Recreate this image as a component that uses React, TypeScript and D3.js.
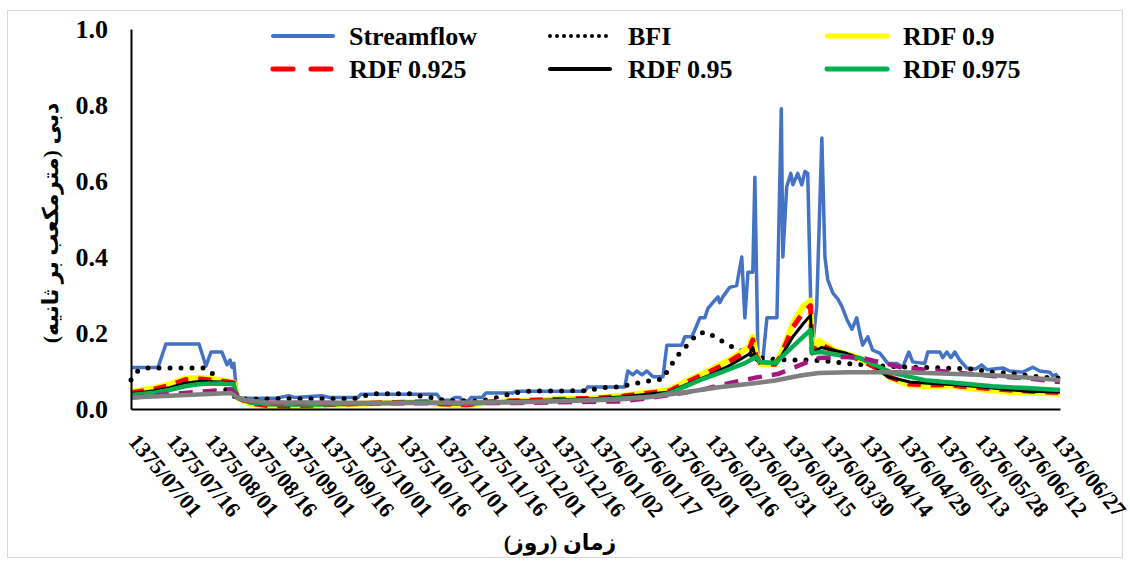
import React, { useEffect, useRef } from "react";
import * as d3 from "d3";

// days counted from 1375/07/01, labels every 15 days
const tickLabels = [
  "1375/07/01", "1375/07/16", "1375/08/01", "1375/08/16", "1375/09/01",
  "1375/09/16", "1375/10/01", "1375/10/16", "1375/11/01", "1375/11/16",
  "1375/12/01", "1375/12/16", "1376/01/02", "1376/01/17", "1376/02/01",
  "1376/02/16", "1376/02/31", "1376/03/15", "1376/03/30", "1376/04/14",
  "1376/04/29", "1376/05/13", "1376/05/28", "1376/06/12", "1376/06/27",
];
const tickDays = tickLabels.map((_, i) => i * 15);
const yTicks = [0, 0.2, 0.4, 0.6, 0.8, 1.0];

// [day, m3/s]
const streamflow: [number, number][] = [
  [0, 0.109], [10.5, 0.109], [13.6, 0.171], [26.5, 0.171], [29.2, 0.113], [31.2, 0.15], [35.4, 0.15],
  [37.4, 0.116], [38.6, 0.129], [39.3, 0.11], [40.1, 0.12], [41.3, 0.029], [56, 0.028], [61.5, 0.035],
  [63.9, 0.03], [74.4, 0.035], [77.5, 0.03], [88.4, 0.03], [89.6, 0.039], [119.2, 0.039], [120.8, 0.023],
  [124.3, 0.023], [126.2, 0.03], [128.2, 0.03], [129.3, 0.021], [131.3, 0.021], [132.5, 0.03], [136.7, 0.03],
  [138.3, 0.042], [148.8, 0.042], [150, 0.047], [176.9, 0.047], [178, 0.058], [192.4, 0.058], [193.6, 0.1],
  [195.6, 0.09], [197.1, 0.1], [199.1, 0.09], [201, 0.1], [203.4, 0.085], [207.3, 0.085], [208.8, 0.168],
  [214.6, 0.168], [215.8, 0.19], [218.5, 0.19], [219.7, 0.208], [221.7, 0.24], [223.6, 0.24], [224.8, 0.265],
  [226.7, 0.28], [228.7, 0.295], [229.4, 0.28], [230.6, 0.295], [233.3, 0.32], [236, 0.325], [238, 0.4],
  [239.2, 0.24], [240.4, 0.36], [242.3, 0.36], [243.1, 0.61], [244.3, 0.137], [246.2, 0.13], [247.8, 0.24],
  [251.7, 0.24], [253.4, 0.79], [254, 0.4], [255.5, 0.585], [257.1, 0.62], [257.9, 0.59], [259.8, 0.62],
  [261.4, 0.59], [262.6, 0.625], [263.7, 0.62], [265.3, 0.147], [267.2, 0.27], [269.2, 0.713], [270.4, 0.4],
  [271.5, 0.34], [273.5, 0.305], [275.4, 0.29], [277, 0.27], [279, 0.235], [280.9, 0.21], [282.8, 0.24],
  [284, 0.2], [285.1, 0.168], [287.1, 0.19], [289, 0.155], [291.8, 0.147], [294.9, 0.12], [298.4, 0.12],
  [300.7, 0.11], [303.1, 0.15], [304.6, 0.124], [309.3, 0.12], [310.5, 0.15], [315.2, 0.15], [316.3, 0.135],
  [317.9, 0.15], [319.5, 0.135], [321, 0.15], [322.9, 0.129], [325.7, 0.108], [329, 0.105], [331.5, 0.116],
  [333.5, 0.103], [339.7, 0.108], [342.4, 0.1], [347.5, 0.097], [351.4, 0.11], [354.1, 0.1], [358, 0.097],
  [359.2, 0.087], [361.1, 0.092],
];

const bfi: [number, number][] = [
  [0, 0.076], [2.7, 0.1], [6.6, 0.108], [28, 0.108], [31.6, 0.095], [33, 0.07], [41, 0.03], [46, 0.025],
  [56, 0.027], [87, 0.027], [91, 0.035], [95, 0.04], [109.5, 0.04], [113.8, 0.032], [117.9, 0.029],
  [123, 0.022], [136, 0.021], [139.9, 0.026], [143.7, 0.032], [147.6, 0.04], [151.9, 0.045], [156, 0.047],
  [178, 0.048], [182.3, 0.055], [186.6, 0.058], [190.8, 0.058], [195, 0.066], [199.5, 0.071], [203.4, 0.076],
  [207.3, 0.079], [209.6, 0.108], [212, 0.13], [214.6, 0.155], [217.8, 0.174], [220.4, 0.197], [224, 0.203],
  [227.5, 0.19], [231.4, 0.174], [235.3, 0.16], [239.2, 0.15], [243.1, 0.137], [247.8, 0.132], [251.7, 0.13],
  [256, 0.129], [264.5, 0.129], [272.3, 0.125], [277.4, 0.121], [282, 0.118], [290, 0.114], [303.5, 0.11],
  [316.3, 0.108], [329.6, 0.105], [333.9, 0.097], [342.4, 0.095], [346.3, 0.09], [350.6, 0.087], [355, 0.084],
  [359.2, 0.082], [362, 0.081],
];

const rdf900: [number, number][] = [
  [0, 0.045], [9, 0.055], [15, 0.065], [21, 0.08], [27, 0.082], [35, 0.076], [40, 0.07], [41.5, 0.03],
  [46, 0.015], [53, 0.007], [62, 0.006], [75, 0.01], [95, 0.015], [115, 0.018], [121, 0.012], [131, 0.01],
  [140, 0.018], [160, 0.024], [180, 0.028], [192, 0.035], [203, 0.045], [210, 0.05], [217, 0.075], [225, 0.1],
  [232, 0.125], [238, 0.15], [241, 0.165], [242.3, 0.19], [243.5, 0.145], [245.5, 0.118], [251, 0.118],
  [253, 0.14], [257.9, 0.225], [262, 0.27], [264.8, 0.285], [265.4, 0.15], [266.5, 0.16], [268, 0.18],
  [274, 0.155], [284, 0.133], [291.8, 0.106], [296, 0.082], [303, 0.063], [312, 0.06], [320, 0.062],
  [323, 0.057], [342, 0.045], [362, 0.04],
];

const rdf925: [number, number][] = [
  [0, 0.043], [9, 0.052], [15, 0.062], [21, 0.077], [27, 0.079], [35, 0.074], [40, 0.069], [41.5, 0.03],
  [46, 0.016], [53, 0.009], [62, 0.008], [75, 0.011], [95, 0.016], [115, 0.019], [121, 0.013], [131, 0.011],
  [140, 0.019], [160, 0.024], [180, 0.028], [192, 0.034], [203, 0.043], [210, 0.048], [217, 0.072],
  [225, 0.097], [232, 0.12], [238, 0.145], [241, 0.16], [242.3, 0.182], [243.5, 0.14], [245.5, 0.118],
  [251, 0.118], [253, 0.137], [257.9, 0.215], [262, 0.255], [264.8, 0.272], [265.4, 0.148], [266.5, 0.157],
  [268, 0.172], [274, 0.152], [284, 0.13], [291.8, 0.103], [296, 0.083], [303, 0.066], [312, 0.063],
  [320, 0.064], [323, 0.06], [342, 0.05], [362, 0.043],
];

const rdf950: [number, number][] = [
  [0, 0.04], [9, 0.048], [15, 0.056], [21, 0.068], [27, 0.073], [35, 0.071], [40, 0.068], [41.5, 0.03],
  [46, 0.017], [53, 0.011], [62, 0.011], [75, 0.012], [95, 0.016], [115, 0.019], [121, 0.014], [131, 0.013],
  [140, 0.019], [160, 0.023], [180, 0.027], [192, 0.032], [203, 0.04], [210, 0.045], [217, 0.066],
  [225, 0.088], [232, 0.11], [238, 0.133], [241, 0.145], [242.3, 0.162], [243.5, 0.13], [245.5, 0.122],
  [251, 0.122], [253, 0.135], [257.9, 0.19], [262, 0.225], [264.8, 0.247], [265.4, 0.145], [266.5, 0.152],
  [269, 0.162], [278, 0.148], [289, 0.121], [291.8, 0.1], [294.9, 0.085], [303.5, 0.071], [310.5, 0.068],
  [322.9, 0.063], [335.7, 0.055], [348.8, 0.047], [362, 0.045],
];

const rdf975: [number, number][] = [
  [0, 0.037], [9, 0.043], [15, 0.05], [21, 0.06], [27, 0.066], [35, 0.067], [40, 0.065], [41.5, 0.03],
  [46, 0.018], [53, 0.013], [62, 0.012], [75, 0.012], [95, 0.015], [115, 0.017], [121, 0.015], [131, 0.014],
  [140, 0.017], [160, 0.02], [180, 0.024], [192, 0.028], [203, 0.032], [210, 0.042], [221.7, 0.076],
  [229.4, 0.095], [239, 0.12], [243.5, 0.137], [245, 0.124], [251, 0.121], [264.8, 0.208], [265.4, 0.147],
  [269, 0.15], [280, 0.137], [284, 0.134], [291.8, 0.11], [296.6, 0.095], [309.3, 0.076], [322.9, 0.068],
  [335.7, 0.06], [348.8, 0.055], [362, 0.05],
];

// two unlabelled series (purple dashed, grey)
const seriesPurple: [number, number][] = [
  [0, 0.03], [26, 0.045], [39, 0.052], [41.5, 0.035], [44, 0.022], [55, 0.016], [100, 0.015], [150, 0.016],
  [190, 0.02], [200, 0.027], [210, 0.037], [222, 0.05], [233, 0.068], [243, 0.082], [252, 0.092],
  [258, 0.108], [263, 0.122], [268, 0.134], [276, 0.137], [284, 0.136], [290, 0.126], [300, 0.11],
  [310.5, 0.103], [322.9, 0.095], [335.7, 0.087], [349, 0.081], [362, 0.071],
];

const seriesGrey: [number, number][] = [
  [0, 0.03], [39, 0.042], [41.5, 0.03], [45, 0.023], [52, 0.018], [100, 0.016], [150, 0.018], [190, 0.025],
  [203, 0.032], [216, 0.044], [229, 0.057], [242, 0.067], [251, 0.075], [261, 0.088], [268, 0.095],
  [280, 0.097], [300, 0.097], [310, 0.095], [336, 0.089], [362, 0.076],
];

const latin = "'Times New Roman', 'Liberation Serif', serif";
const persian = "'Times New Roman', 'Liberation Serif', 'DejaVu Sans', sans-serif";

export default function App() {
  const ref = useRef<SVGSVGElement>(null);

  useEffect(() => {
    document.body.style.margin = "0";
    const svg = d3.select(ref.current);
    svg.selectAll("*").remove();

    // frame
    svg.append("rect")
      .attr("x", 7.5).attr("y", 10.5)
      .attr("width", 1115).attr("height", 547)
      .attr("fill", "white").attr("stroke", "#d9d9d9");

    const x = d3.scaleLinear().domain([0, 362]).range([131, 1060]);
    const y = d3.scaleLinear().domain([0, 1]).range([409, 29]);

    const line = d3.line<[number, number]>()
      .x(d => x(d[0]))
      .y(d => y(d[1]))
      .curve(d3.curveLinear);

    const series = [
      { data: streamflow, color: "#4472c4", width: 3.5, dash: null },
      { data: bfi, color: "#000000", width: 5, dash: "0 11" },
      { data: rdf900, color: "#ffff00", width: 6, dash: null },
      { data: rdf925, color: "#ff0000", width: 5, dash: "13 10" },
      { data: rdf950, color: "#000000", width: 3, dash: null },
      { data: rdf975, color: "#00b050", width: 4.5, dash: null },
      { data: seriesPurple, color: "#a5177f", width: 4.5, dash: "14 10" },
      { data: seriesGrey, color: "#7f7f7f", width: 4.5, dash: null },
    ];

    const plot = svg.append("g");
    series.forEach(s => {
      plot.append("path")
        .datum(s.data)
        .attr("fill", "none")
        .attr("stroke", s.color)
        .attr("stroke-width", s.width)
        .attr("stroke-linejoin", "round")
        .attr("stroke-linecap", s.dash === "0 11" ? "round" : "butt")
        .attr("stroke-dasharray", s.dash)
        .attr("d", line);
    });

    // Y axis
    const yAxis = svg.append("g")
      .attr("transform", "translate(131,0)")
      .call(d3.axisLeft(y).tickValues(yTicks).tickFormat(d3.format(".1f")).tickSize(0).tickPadding(23));
    yAxis.select(".domain").attr("stroke", "#000").attr("stroke-width", 2);
    yAxis.selectAll("text")
      .attr("font-family", latin)
      .attr("font-weight", "bold")
      .attr("font-size", 26)
      .attr("fill", "#000");

    // X axis
    const xAxis = svg.append("g")
      .attr("transform", "translate(0,409)")
      .call(d3.axisBottom(x).tickValues(tickDays).tickSize(0)
        .tickFormat((_, i) => tickLabels[i]));
    xAxis.select(".domain").attr("stroke", "#000").attr("stroke-width", 2);
    xAxis.selectAll("text")
      .attr("x", 0).attr("y", 0).attr("dy", 0)
      .attr("transform", "translate(-4,33) rotate(50)")
      .attr("text-anchor", "start")
      .attr("font-family", latin)
      .attr("font-weight", "bold")
      .attr("font-size", 22)
      .attr("fill", "#000");

    // axis titles
    svg.append("text")
      .attr("x", 560).attr("y", 550)
      .attr("text-anchor", "middle")
      .attr("direction", "rtl")
      .attr("font-family", persian)
      .attr("font-weight", "bold")
      .attr("font-size", 22)
      .text("زمان (روز)");

    svg.append("text")
      .attr("transform", "translate(58,223) rotate(-90)")
      .attr("text-anchor", "middle")
      .attr("direction", "rtl")
      .attr("font-family", persian)
      .attr("font-weight", "bold")
      .attr("font-size", 22)
      .text("دبی (مترمکعب بر ثانیه)");

    // legend
    const legend = [
      { name: "Streamflow", color: "#4472c4", width: 4, dash: null, lx: 273, tx: 349, ly: 36 },
      { name: "BFI", color: "#000000", width: 4, dash: "0 7", lx: 550, tx: 628, ly: 36 },
      { name: "RDF 0.9", color: "#ffff00", width: 5, dash: null, lx: 827, tx: 903, ly: 36 },
      { name: "RDF 0.925", color: "#ff0000", width: 5, dash: "20 18", lx: 273, tx: 349, ly: 69 },
      { name: "RDF 0.95", color: "#000000", width: 4, dash: null, lx: 550, tx: 628, ly: 69 },
      { name: "RDF 0.975", color: "#00b050", width: 5, dash: null, lx: 827, tx: 903, ly: 69 },
    ];
    const lg = svg.append("g");
    legend.forEach(l => {
      lg.append("line")
        .attr("x1", l.lx).attr("x2", l.lx + 60)
        .attr("y1", l.ly).attr("y2", l.ly)
        .attr("stroke", l.color)
        .attr("stroke-width", l.width)
        .attr("stroke-linecap", "round")
        .attr("stroke-dasharray", l.dash);
      lg.append("text")
        .attr("x", l.tx).attr("y", l.ly + 9)
        .attr("font-family", latin)
        .attr("font-weight", "bold")
        .attr("font-size", 26)
        .text(l.name);
    });
  }, []);

  return <svg ref={ref} width={1130} height={565} style={{ display: "block" }} />;
}
